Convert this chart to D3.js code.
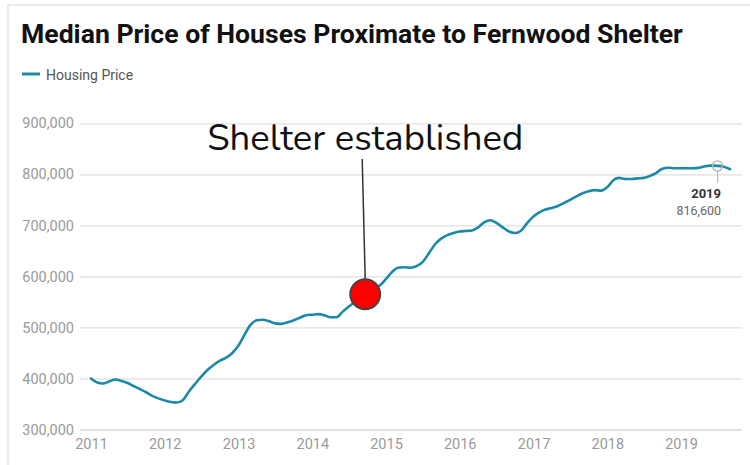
<!DOCTYPE html>
<html>
<head>
<meta charset="utf-8">
<script src="https://cdn.jsdelivr.net/npm/d3@7"></script>
<style>
  html, body { margin: 0; padding: 0; background: #fff; }
  svg { display: block; }
</style>
</head>
<body>
<svg id="chart" width="750" height="465"></svg>
<script>
// Monthly median house price, one array per calendar year (Jan..Dec)
const prices2011 = [400000, 392000, 390000, 394000, 398000, 395000, 391000, 385000, 379000, 373000, 366000, 361000];
const prices2012 = [357000, 354000, 353000, 358000, 375000, 390000, 404000, 417000, 427000, 435000, 441000, 450000];
const prices2013 = [465000, 487000, 505000, 514000, 515000, 512000, 508000, 507000, 510000, 514000, 519000, 524000];
const prices2014 = [525000, 526000, 524000, 520000, 520000, 531000, 541000, 551000, 560000, 568000, 575000, 582000];
const prices2015 = [595000, 609000, 617000, 618000, 617000, 620000, 628000, 645000, 663000, 674000, 681000, 685000];
const prices2016 = [688000, 689000, 690000, 696000, 706000, 710000, 705000, 696000, 688000, 685000, 690000, 705000];
const prices2017 = [718000, 726000, 731000, 734000, 738000, 744000, 750000, 757000, 763000, 767000, 769000, 768000];
const prices2018 = [775000, 789000, 793000, 791000, 791000, 792000, 793000, 797000, 803000, 811000, 813000, 812000];
const prices2019 = [812000, 812000, 812000, 813000, 816000, 817000, 816600, 815000, 810000];

const years = [2011, 2012, 2013, 2014, 2015, 2016, 2017, 2018, 2019];
const yearlyPrices = [prices2011, prices2012, prices2013, prices2014, prices2015, prices2016, prices2017, prices2018, prices2019];

const yTicks = [300000, 400000, 500000, 600000, 700000, 800000, 900000];
const xTickYears = [2011, 2012, 2013, 2014, 2015, 2016, 2017, 2018, 2019];

// Callouts
const eventLabel = "Shelter established";
const eventDate = new Date(2014, 8, 20);
const eventValue = 565000;
const highlightDate = new Date(2019, 6, 1);
const highlightValue = 816600;
const highlightLabel = "2019";

const titleText = "Median Price of Houses Proximate to Fernwood Shelter";
const seriesName = "Housing Price";

const lineColor = "#1c89a7";

const data = [];
years.forEach((yr, i) => {
  yearlyPrices[i].forEach((v, m) => data.push({ date: new Date(yr, m, 1), value: v }));
});

const svg = d3.select("#chart");

// Outer frame (top and left edges visible)
svg.append("path")
  .attr("d", "M8,470 L8,5 L760,5")
  .attr("fill", "none")
  .attr("stroke", "#e3e3e3")
  .attr("stroke-width", 1.5);

const x = d3.scaleTime()
  .domain([new Date(2011, 0, 1), new Date(2019, 0, 1)])
  .range([91, 681]);

const y = d3.scaleLinear()
  .domain([300000, 900000])
  .range([429.5, 123.3]);

const gridLeft = 80, gridRight = 742;

// Title
svg.append("text")
  .attr("x", 21).attr("y", 43)
  .attr("font-family", "Roboto, 'Liberation Sans', sans-serif")
  .attr("font-weight", 700)
  .attr("font-size", 26.6)
  .attr("fill", "#111")
  .text(titleText);

// Legend
svg.append("line")
  .attr("x1", 22).attr("x2", 40).attr("y1", 74).attr("y2", 74)
  .attr("stroke", lineColor).attr("stroke-width", 3);
svg.append("text")
  .attr("x", 46).attr("y", 79.5)
  .attr("font-family", "Roboto, sans-serif")
  .attr("font-size", 14)
  .attr("fill", "#555")
  .text(seriesName);

// Horizontal gridlines and y labels
const yAxis = d3.axisLeft(y)
  .tickValues(yTicks)
  .tickSize(-(gridRight - gridLeft))
  .tickPadding(6)
  .tickFormat(d3.format(","));

const gy = svg.append("g")
  .attr("transform", `translate(${gridLeft},0)`)
  .call(yAxis);
gy.select(".domain").remove();
gy.selectAll(".tick line")
  .attr("stroke", d => d === 300000 ? "#d6d6d6" : "#e0e0e0")
  .attr("stroke-width", 1.3);
gy.selectAll(".tick text")
  .attr("font-family", "Roboto, sans-serif")
  .attr("font-size", 14.5)
  .attr("fill", "#9a9a9a");

// X axis labels
const xAxis = d3.axisBottom(x)
  .tickValues(xTickYears.map(yr => new Date(yr, 0, 1)))
  .tickSize(0)
  .tickPadding(9)
  .tickFormat(d3.timeFormat("%Y"));

const gx = svg.append("g")
  .attr("transform", `translate(0,${y(300000)})`)
  .call(xAxis);
gx.select(".domain").remove();
gx.selectAll(".tick text")
  .attr("font-family", "Roboto, sans-serif")
  .attr("font-size", 14.5)
  .attr("fill", "#9a9a9a");

// Price line
const line = d3.line()
  .x(d => x(d.date))
  .y(d => y(d.value))
  .curve(d3.curveMonotoneX);

svg.append("path")
  .datum(data)
  .attr("d", line)
  .attr("fill", "none")
  .attr("stroke", lineColor)
  .attr("stroke-width", 2.6)
  .attr("stroke-linejoin", "round")
  .attr("stroke-linecap", "round");

// Highlighted latest point
const hx = x(highlightDate), hy = y(highlightValue);
svg.append("circle")
  .attr("cx", hx).attr("cy", hy).attr("r", 5)
  .attr("fill", "none")
  .attr("stroke", "#b5b5b5")
  .attr("stroke-width", 1.4);
svg.append("line")
  .attr("x1", hx).attr("x2", hx)
  .attr("y1", hy + 5).attr("y2", hy + 17)
  .attr("stroke", "#bbb").attr("stroke-width", 1.2);
svg.append("text")
  .attr("x", hx + 3.5).attr("y", hy + 32)
  .attr("text-anchor", "end")
  .attr("font-family", "Roboto, sans-serif")
  .attr("font-weight", 700)
  .attr("font-size", 13)
  .attr("fill", "#333")
  .text(highlightLabel);
svg.append("text")
  .attr("x", hx + 3.5).attr("y", hy + 49)
  .attr("text-anchor", "end")
  .attr("font-family", "Roboto, sans-serif")
  .attr("font-size", 12.5)
  .attr("fill", "#666")
  .text(d3.format(",")(highlightValue));

// Event annotation
const ex = x(eventDate), ey = y(eventValue);
svg.append("line")
  .attr("x1", ex - 3).attr("y1", 159)
  .attr("x2", ex).attr("y2", ey - 15)
  .attr("stroke", "#333").attr("stroke-width", 1.5);
svg.append("circle")
  .attr("cx", ex).attr("cy", ey).attr("r", 15)
  .attr("fill", "#ff0000")
  .attr("stroke", "#444")
  .attr("stroke-width", 2);
svg.append("text")
  .attr("x", ex).attr("y", 150)
  .attr("text-anchor", "middle")
  .attr("font-family", "Nunito, Lato, sans-serif")
  .attr("font-size", 36.5)
  .attr("fill", "#111")
  .text(eventLabel);
</script>
</body>
</html>
